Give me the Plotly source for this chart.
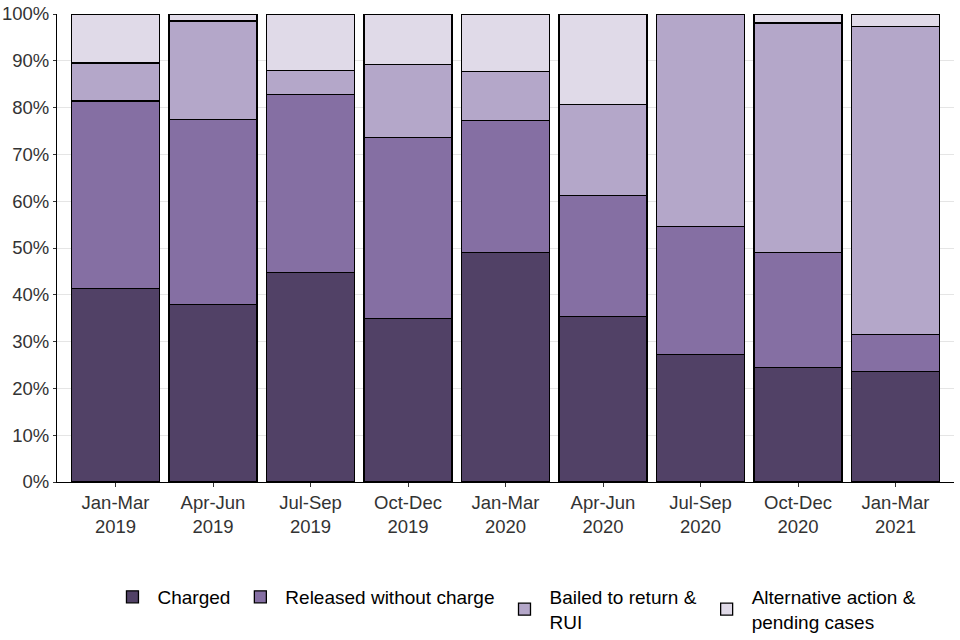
import plotly.graph_objects as go

categories = ["Jan-Mar<br>2019", "Apr-Jun<br>2019", "Jul-Sep<br>2019", "Oct-Dec<br>2019",
              "Jan-Mar<br>2020", "Apr-Jun<br>2020", "Jul-Sep<br>2020", "Oct-Dec<br>2020",
              "Jan-Mar<br>2021"]
charged = [41.3, 37.9, 44.7, 34.9, 49.0, 35.4, 27.2, 24.5, 23.6]
released = [40.1, 39.5, 38.1, 38.7, 28.2, 25.8, 27.4, 24.5, 7.9]
bailed = [8.1, 21.1, 5.2, 15.6, 10.5, 19.4, 45.4, 49.1, 65.9]
alternative = [10.5, 1.5, 12.0, 10.8, 12.3, 19.4, 0.0, 1.9, 2.6]

series = [
    ("Charged", charged, "#514166"),
    ("Released without charge", released, "#856fa3"),
    ("Bailed to return &<br>RUI", bailed, "#b4a7c9"),
    ("Alternative action &<br>pending cases", alternative, "#e0dae8"),
]

fig = go.Figure()
for name, vals, col in series:
    fig.add_trace(go.Bar(
        x=categories, y=vals, name=name,
        marker=dict(color=col, line=dict(color="black", width=1.3)),
        width=0.9,
    ))

fig.update_layout(
    barmode="stack",
    width=960, height=640,
    margin=dict(l=57, r=6, t=14, b=158, autoexpand=False),
    plot_bgcolor="white", paper_bgcolor="white",
    font=dict(family="Liberation Sans, Arial, sans-serif", size=18.5, color="#333333"),
    showlegend=True,
    legend=dict(orientation="h", x=0.51, xanchor="center", y=-0.205, yanchor="top",
                traceorder="normal", font=dict(size=19, color="black"),
                itemwidth=40),
)
fig.update_xaxes(
    range=[-0.6, 8.6], showline=True, linecolor="black", linewidth=1,
    ticks="outside", ticklen=4, tickcolor="#333333", showgrid=False, automargin=False,
    tickfont=dict(size=18.5, color="#333333"),
)
fig.update_yaxes(
    range=[0, 100], dtick=10, ticksuffix="%", showline=True, linecolor="black", linewidth=1,
    ticks="outside", ticklen=3, tickcolor="#333333", automargin=False,
    showgrid=True, gridcolor="#e5e5e5", gridwidth=1, zeroline=False,
    tickfont=dict(size=18.5, color="#333333"),
)

# remove the browser's default body margin so the figure fills the window exactly
fig.write_html(
    "out.html",
    config={"displayModeBar": False},
    post_script="document.body.style.margin='0';document.body.style.overflow='hidden';",
)
